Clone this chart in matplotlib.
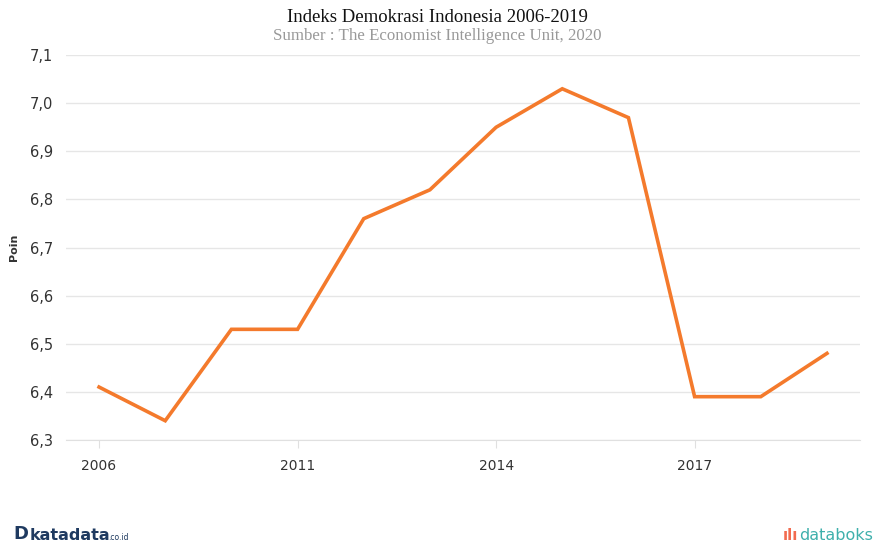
import matplotlib.pyplot as plt
import numpy as np

# data
years = ["2006", "2008", "2010", "2011", "2012", "2013",
         "2014", "2015", "2016", "2017", "2018", "2019"]
index_values = [6.41, 6.34, 6.53, 6.53, 6.76, 6.82,
                6.95, 7.03, 6.97, 6.39, 6.39, 6.48]
y_ticks = [6.3, 6.4, 6.5, 6.6, 6.7, 6.8, 6.9, 7.0, 7.1]

fig = plt.figure(figsize=(8.75, 5.51), dpi=100)
ax = fig.add_axes([0.0754, 0.2015, 0.9075, 0.6985])

x = np.arange(len(years))
ax.plot(x, index_values, color="#F47A2C", linewidth=2.6, solid_joinstyle="miter")

ax.set_xlim(-0.5, len(years) - 0.5)
ax.set_ylim(6.3, 7.1)
ax.set_yticks(y_ticks)
ax.set_yticklabels([f"{v:.1f}".replace(".", ",") for v in y_ticks])
ax.set_xticks(x[::3])
ax.set_xticklabels(years[::3])

ax.grid(axis="y", color="#E6E6E6", linewidth=1)
ax.set_axisbelow(True)
for s in ["top", "right", "left"]:
    ax.spines[s].set_visible(False)
ax.spines["bottom"].set_color("#E0E0E0")
ax.tick_params(axis="y", length=0, pad=9, labelsize=10.5, colors="#333333")
ax.tick_params(axis="x", length=6, color="#E0E0E0", pad=8, labelsize=10, labelcolor="#333333")
ax.set_ylabel("Poin", fontsize=8, fontweight="bold", color="#333333", labelpad=8)

fig.text(0.5, 0.968, "Indeks Demokrasi Indonesia 2006-2019", ha="center", va="center",
         family="Liberation Serif", fontsize=13.5, color="#111111")
fig.text(0.5, 0.935, "Sumber : The Economist Intelligence Unit, 2020", ha="center", va="center",
         family="Liberation Serif", fontsize=12.2, color="#999999")

# footer logos as text
fig.text(0.015, 0.015, "D", ha="left", va="bottom", fontsize=13, fontweight="bold", color="#1F3A60")
fig.text(0.034, 0.015, "katadata", ha="left", va="bottom", fontsize=11.5, fontweight="bold", color="#1F3A60")
fig.text(0.124, 0.017, ".co.id", ha="left", va="bottom", fontsize=5.5, color="#1F3A60")
fig.text(0.912, 0.015, "ılı", ha="right", va="bottom", fontsize=11, fontweight="bold", color="#F26B4F")
fig.text(0.998, 0.015, "databoks", ha="right", va="bottom", fontsize=11.5, color="#3FB0AC")

plt.savefig("out.png", dpi=100)
